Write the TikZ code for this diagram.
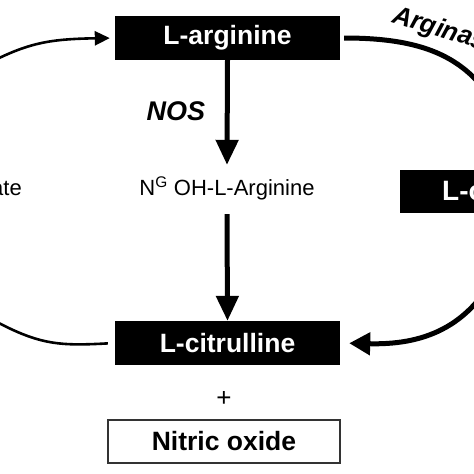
\documentclass[tikz,border=0pt]{standalone}
\usepackage{fontspec}
\setmainfont{Liberation Sans}
\usetikzlibrary{arrows.meta}
\begin{document}
\begin{tikzpicture}[x=1pt,y=-1pt,
  blackbox/.style={fill=black, text=white, font=\fontsize{26.5}{30}\selectfont\bfseries,
    minimum width=225pt, minimum height=44pt, inner sep=0pt},
  whitebox/.style={draw=black!80, line width=1.2pt, fill=white, font=\fontsize{26.5}{30}\selectfont\bfseries,
    minimum width=232pt, minimum height=43pt, inner sep=0pt},
  bigarrow/.style={line width=5pt, -{Triangle[length=25pt,width=22pt]}},
  thickcurve/.style={line width=5pt},
  thincurve/.style={line width=2.6pt},
  plain/.style={font=\fontsize{22}{26}\selectfont, inner sep=0pt},
  enzyme/.style={font=\fontsize{27}{30}\selectfont\bfseries\itshape, inner sep=0pt}]
\useasboundingbox (0,0) rectangle (474,474);
\clip (0,0) rectangle (474,474);
\fill[white] (0,0) rectangle (474,474);

% nodes
\node[blackbox] (larg) at (227.5,38) {L-arginine};
\node[blackbox] (lcit) at (227.5,343) {L-citrulline};
\node[whitebox] (no) at (224,441.5) {Nitric oxide};
\node[plain, font=\fontsize{26}{28}\selectfont] (plus) at (224,399) {+};
\node[plain, anchor=base, text height=16pt, text depth=5pt, inner ysep=14pt] (ng) at (227,195)
  {N\textsuperscript{G} OH-L-Arginine};
\node[enzyme] (nos) at (176,111) {NOS};
\node[blackbox, anchor=west, minimum width=160pt, minimum height=43pt] (lorn) at (400,191.5) {};
\node[font=\fontsize{28}{32}\selectfont\bfseries, text=white, anchor=west, inner sep=0pt] (lornt) at (442,190.5) {L-ornithine};
\node[plain, anchor=base east] (asa) at (22,195) {Argininosuccinate};
\node[font=\fontsize{26}{30}\selectfont\bfseries\itshape, anchor=base west, rotate=-17, inner sep=0pt] (argase) at (391,22) {Arginase};

% coordinates for free ends
\coordinate (c1) at (-5,60);
\coordinate (c2) at (-5,321);
\coordinate (c3) at (495,105);
\coordinate (c4) at (500,265);

% connectors
\draw[bigarrow] (larg.south) -- (ng.north);
\draw[bigarrow] (ng.south) -- (lcit.north);
\draw[thickcurve, shorten <=4pt] (larg.east) .. controls (420,38) and (465,55) .. (c3);
\draw[thickcurve, -{Triangle[length=21pt,width=22pt]}, shorten >=9pt]
  (c4) .. controls (470,330) and (420,345) .. (lcit.east);
\draw[thincurve, -{Triangle[length=15pt,width=14pt]}, shorten >=5pt]
  (c1) .. controls (30,43) and (50,39) .. (larg.west);
\draw[thincurve, shorten >=7pt]
  (c2) .. controls (40,345) and (60,346) .. (lcit.west);
\end{tikzpicture}
\end{document}
